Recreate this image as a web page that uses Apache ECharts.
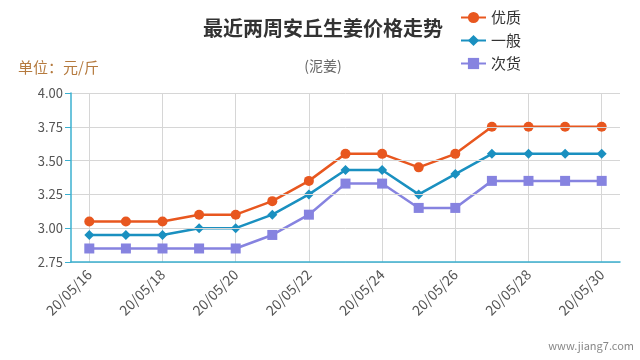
<!DOCTYPE html>
<html><head><meta charset="utf-8">
<script src="https://cdn.jsdelivr.net/npm/echarts@6/dist/echarts.min.js"></script>
<style>html,body{margin:0;padding:0;background:#fff}#c{width:640px;height:360px}</style>
</head><body><div id="c"></div>
<script>
var categories = ['20/05/16','20/05/17','20/05/18','20/05/19','20/05/20','20/05/21','20/05/22','20/05/23','20/05/24','20/05/25','20/05/26','20/05/27','20/05/28','20/05/29','20/05/30'];
var youzhi = [3.05,3.05,3.05,3.10,3.10,3.20,3.35,3.55,3.55,3.45,3.55,3.75,3.75,3.75,3.75];
var yiban  = [2.95,2.95,2.95,3.00,3.00,3.10,3.25,3.43,3.43,3.25,3.40,3.55,3.55,3.55,3.55];
var cihuo  = [2.85,2.85,2.85,2.85,2.85,2.95,3.10,3.33,3.33,3.15,3.15,3.35,3.35,3.35,3.35];
var yTicks = [2.75,3.00,3.25,3.50,3.75,4.00];

var font = '"Microsoft YaHei","Noto Sans CJK SC",sans-serif';
var chart = echarts.init(document.getElementById('c'));
function ser(name, data, color, symbol, size) {
  return {name:name, type:'line', data:data, symbol:symbol, symbolSize:size,
    xAxisIndex:0, yAxisIndex:0, z:3,
    showAllSymbol:true, lineStyle:{color:color,width:2.5}, itemStyle:{color:color}};
}
var gl = 71, gr = 20, gw = 640 - gl - gr, half = gw / categories.length / 2;
chart.setOption({
  animation:false,
  textStyle:{fontFamily:font},
  title:[
    {text:'最近两周安丘生姜价格走势', left:318, top:13, textAlign:'center',
     textStyle:{fontSize:20,fontWeight:'bold',color:'#333',fontFamily:font}},
    {text:'(泥姜)', left:318, top:54, textAlign:'center',
     textStyle:{fontSize:14,fontWeight:'normal',color:'#666',fontFamily:font}}
  ],
  legend:{orient:'vertical', left:455, top:5, itemGap:8, itemWidth:25, itemHeight:14,
    textStyle:{fontSize:15,color:'#333',fontFamily:font},
    data:['优质','一般','次货']},
  graphic:[
    {type:'text', left:18, top:60, style:{text:'单位：元/斤', fill:'#b57a3e', font:'15px '+font}},
    {type:'text', right:6, top:340, style:{text:'www.jiang7.com', fill:'#888', font:'11px '+font}}
  ],
  grid:[
    {left:gl, right:gr, top:93, bottom:98},
    {left:gl + half, right:gr + half, top:93, bottom:98}
  ],
  xAxis:[
    {type:'category', gridIndex:0, data:categories, boundaryGap:true, z:4,
    axisLine:{lineStyle:{color:'#3bb0d0',width:1.5}},
    axisTick:{alignWithLabel:true, interval:1, length:6, lineStyle:{color:'#3bb0d0'}},
    axisLabel:{interval:1, rotate:45, color:'#555', fontSize:14, margin:10},
    splitLine:{show:false}},
    {type:'category', gridIndex:1, data:categories, boundaryGap:false,
    axisLine:{show:false}, axisTick:{show:false}, axisLabel:{show:false},
    splitLine:{show:true, interval:1, lineStyle:{color:'#d6d6d6'}}}
  ],
  yAxis:[
    {type:'value', gridIndex:0, min:yTicks[0], max:yTicks[yTicks.length-1], interval:0.25, z:4,
    axisLine:{show:true, lineStyle:{color:'#3bb0d0',width:1.5}},
    axisTick:{show:true, length:6, lineStyle:{color:'#3bb0d0'}},
    axisLabel:{color:'#555', fontSize:13, formatter:function(v){return v.toFixed(2);}},
    splitLine:{lineStyle:{color:'#d6d6d6'}}},
    {type:'value', gridIndex:1, min:yTicks[0], max:yTicks[yTicks.length-1], interval:0.25,
    show:false, splitLine:{show:false}}
  ],
  series:[
    ser('优质', youzhi, '#e8571f', 'circle', 10),
    ser('一般', yiban, '#1a90c0', 'diamond', 10),
    ser('次货', cihuo, '#8683e0', 'rect', 10)
  ]
});
</script></body></html>
